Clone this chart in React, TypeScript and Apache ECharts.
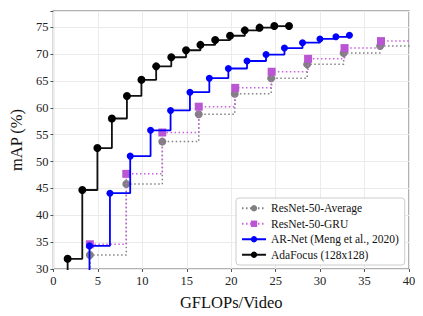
import React, { useEffect, useRef } from "react";
import * as echarts from "echarts";

const xTicks = [0, 5, 10, 15, 20, 25, 30, 35, 40];
const yTicks = [30, 35, 40, 45, 50, 55, 60, 65, 70, 75];

const avgX = [4.1, 8.2, 12.25, 16.35, 20.4, 24.5, 28.55, 32.65, 36.75];
const avgY = [32.6, 45.8, 53.7, 58.8, 62.6, 65.5, 68.1, 70.2, 71.5];

const gruX = [4.1, 8.2, 12.25, 16.35, 20.45, 24.55, 28.65, 32.75, 36.85];
const gruY = [34.6, 47.7, 55.4, 60.2, 63.7, 66.7, 69.1, 71.1, 72.4];

const arX = [4.06, 6.36, 8.64, 10.93, 13.18, 15.36, 17.54, 19.68, 21.78, 23.92, 25.99, 28.02, 29.98, 31.78, 33.3];
const arY = [34.3, 44.1, 51.0, 55.8, 59.5, 62.9, 65.5, 67.3, 68.7, 69.9, 71.1, 72.1, 72.8, 73.2, 73.5];

const adaX = [1.6, 3.25, 4.95, 6.58, 8.27, 9.9, 11.56, 13.26, 14.92, 16.54, 18.2, 19.87, 21.53, 23.19, 24.85, 26.5];
const adaY = [31.9, 44.7, 52.5, 58.0, 62.2, 65.2, 67.7, 69.4, 70.7, 71.7, 72.6, 73.4, 74.4, 74.9, 75.2, 75.2];

const names = [
  "ResNet-50-Average",
  "ResNet-50-GRU",
  "AR-Net (Meng et al., 2020)",
  "AdaFocus (128x128)",
];

const X_MIN = 0;
const X_MAX = 40;
const Y_MIN = 30;
const Y_MAX = 78;

function buildData(xs: number[], ys: number[], extendRight: boolean) {
  const d: any[] = [{ value: [xs[0], Y_MIN - 2], symbol: "none" }];
  xs.forEach((x, i) => d.push([x, ys[i]]));
  if (extendRight) d.push({ value: [X_MAX + 1, ys[ys.length - 1]], symbol: "none" });
  return d;
}

const FONT = "'Liberation Serif', 'DejaVu Serif', serif";

export default function App() {
  const ref = useRef<HTMLDivElement>(null);
  useEffect(() => {
    if (!ref.current) return;
    const chart = echarts.init(ref.current, null, { renderer: "svg" });
    chart.setOption({
      animation: false,
      backgroundColor: "#ffffff",
      textStyle: { fontFamily: FONT },
      grid: {
        left: 48,
        right: 14,
        top: 11,
        bottom: 47,
        show: true,
        borderColor: "#999999",
        borderWidth: 1.5,
      },
      legend: {
        orient: "vertical",
        left: 236,
        top: 198,
        width: 168,
        padding: [4, 6, 4, 5],
        itemWidth: 24,
        itemHeight: 8,
        itemGap: 3,
        backgroundColor: "#ffffff",
        borderColor: "#cccccc",
        borderWidth: 1,
        borderRadius: 3,
        textStyle: { fontFamily: FONT, fontSize: 11.5, color: "#111", lineHeight: 12.5 },
        data: names,
      },
      xAxis: {
        type: "value",
        min: X_MIN,
        max: X_MAX,
        interval: 5,
        name: "GFLOPs/Video",
        nameLocation: "middle",
        nameGap: 25,
        nameTextStyle: { fontFamily: FONT, fontSize: 16.5, color: "#111" },
        axisLine: { show: false },
        axisTick: { show: true, length: 3, lineStyle: { color: "#555" } },
        axisLabel: {
          fontFamily: FONT,
          fontSize: 12.5,
          color: "#222",
          margin: 5,
          formatter: (v: number) => (xTicks.includes(v) ? String(v) : ""),
        },
        splitLine: { show: true, lineStyle: { color: "#ebebeb", width: 1 } },
      },
      yAxis: {
        type: "value",
        min: Y_MIN,
        max: Y_MAX,
        interval: 5,
        name: "mAP (%)",
        nameLocation: "middle",
        nameGap: 27,
        nameTextStyle: { fontFamily: FONT, fontSize: 16.5, color: "#111" },
        axisLine: { show: false },
        axisTick: { show: true, length: 3, lineStyle: { color: "#555" } },
        axisLabel: {
          fontFamily: FONT,
          fontSize: 12.5,
          color: "#222",
          margin: 5,
          formatter: (v: number) => (yTicks.includes(v) ? String(v) : ""),
        },
        splitLine: { show: true, lineStyle: { color: "#ebebeb", width: 1 } },
      },
      series: [
        {
          name: names[0],
          type: "line",
          step: "end",
          data: buildData(avgX, avgY, true),
          symbol: "circle",
          symbolSize: 8,
          itemStyle: { color: "#808080" },
          lineStyle: { color: "#808080", width: 1.5, type: [1.5, 2.5] },
          clip: true,
          z: 2,
        },
        {
          name: names[1],
          type: "line",
          step: "end",
          data: buildData(gruX, gruY, true),
          symbol: "rect",
          symbolSize: 8,
          itemStyle: { color: "#BA55D3" },
          lineStyle: { color: "#C860DD", width: 1.5, type: [1.5, 2.5] },
          clip: true,
          z: 3,
        },
        {
          name: names[2],
          type: "line",
          step: "end",
          data: buildData(arX, arY, false),
          symbol: "circle",
          symbolSize: 7,
          itemStyle: { color: "#0000ff" },
          lineStyle: { color: "#0000ff", width: 1.8 },
          clip: true,
          z: 4,
        },
        {
          name: names[3],
          type: "line",
          step: "end",
          data: buildData(adaX, adaY, false),
          symbol: "circle",
          symbolSize: 8,
          itemStyle: { color: "#000000" },
          lineStyle: { color: "#111111", width: 1.8 },
          clip: true,
          z: 5,
        },
      ],
    });
    return () => chart.dispose();
  }, []);
  return <div ref={ref} style={{ width: 423, height: 316, margin: -8 }} />;
}
